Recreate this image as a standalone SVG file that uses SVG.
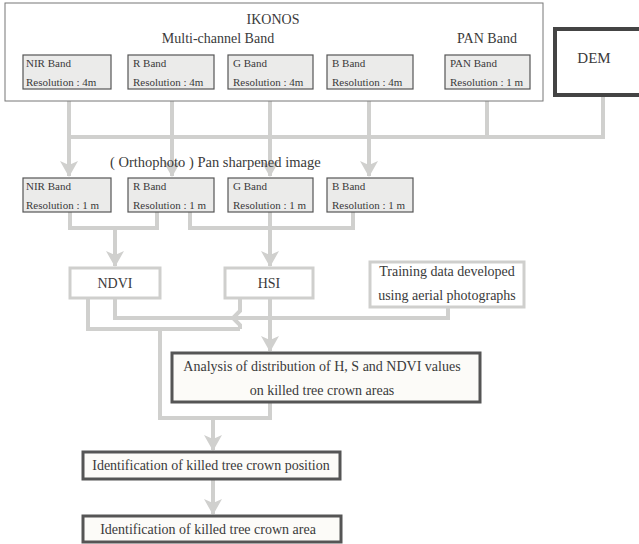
<svg xmlns="http://www.w3.org/2000/svg" width="639" height="544" viewBox="0 0 639 544">
<style>
text{font-family:"Liberation Serif","Times New Roman",serif;fill:#3a3a3a}
.t14{font-size:14px}
.t11{font-size:11px}
.band{fill:#ebebea;stroke:#555;stroke-width:1.2}
.conn{fill:none;stroke:#d0d0ce;stroke-width:4}
.arr{fill:none;stroke:#d0d0ce;stroke-width:4;marker-end:url(#ah)}
.light{fill:#fff;stroke:#cfcfcd;stroke-width:3}
.dark{fill:#fcfbf8;stroke:#555;stroke-width:3}
</style>
<defs>
<marker id="ah" markerUnits="userSpaceOnUse" markerWidth="16" markerHeight="18" refX="15" refY="9" orient="auto" viewBox="0 0 16 18">
<path d="M0,0 L16,9 L0,18 L4,9 Z" fill="#d0d0ce"/>
</marker>
</defs>
<g id="connectors">
<path class="conn" d="M69,89V137M172,89V137M270,89V137M369,89V137M487,89V137M603,95V137M67,137H605"/>
<path class="arr" d="M69,137V176"/>
<path class="arr" d="M172,137V176"/>
<path class="arr" d="M270,137V176"/>
<path class="arr" d="M369,137V176"/>
<path class="conn" d="M70,212V228H157V212M190,212V228H353V212"/>
<path class="arr" d="M115,228V266"/>
<path class="arr" d="M270,212V266"/>
<path class="conn" d="M115,298V318H448V307M88,298V329H240M240,298V311L233,318L240,325V329M160,329V418H270V402"/>
<path class="arr" d="M270,298V351"/>
<path class="arr" d="M213,418V450"/>
<path class="arr" d="M213,479V514"/>
</g>
<g id="ikonos">
<rect x="5" y="3" width="538" height="98" fill="#fff" stroke="#777" stroke-width="1"/>
<text class="t14" x="273" y="24" text-anchor="middle">IKONOS</text>
<text class="t14" x="218" y="43" text-anchor="middle">Multi-channel Band</text>
<text class="t14" x="487" y="43" text-anchor="middle">PAN Band</text>
</g>
<g id="nir4"><rect class="band" x="23" y="55" width="88" height="34"/><text class="t11" x="26" y="67">NIR Band</text><text class="t11" x="26" y="86">Resolution : 4m</text></g>
<g id="r4"><rect class="band" x="128" y="55" width="86" height="34"/><text class="t11" x="133" y="67">R Band</text><text class="t11" x="133" y="86">Resolution : 4m</text></g>
<g id="g4"><rect class="band" x="228" y="55" width="85" height="34"/><text class="t11" x="233" y="67">G Band</text><text class="t11" x="233" y="86">Resolution : 4m</text></g>
<g id="b4"><rect class="band" x="327" y="55" width="86" height="34"/><text class="t11" x="332" y="67">B Band</text><text class="t11" x="332" y="86">Resolution : 4m</text></g>
<g id="pan1"><rect class="band" x="445" y="55" width="85" height="34"/><text class="t11" x="450" y="67">PAN Band</text><text class="t11" x="450" y="86">Resolution :  1 m</text></g>
<g id="dem"><rect x="555" y="29" width="90" height="66" fill="#fff" stroke="#444" stroke-width="4"/><text class="t14" x="594" y="63" text-anchor="middle" style="font-size:15px">DEM</text></g>
<g id="pansharp"><text class="t14" x="110" y="167" style="font-size:14.5px">( Orthophoto ) Pan sharpened image</text></g>
<g id="nir1"><rect class="band" x="23" y="178" width="88" height="34"/><text class="t11" x="26" y="190">NIR Band</text><text class="t11" x="26" y="209">Resolution :  1 m</text></g>
<g id="r1"><rect class="band" x="128" y="178" width="86" height="34"/><text class="t11" x="133" y="190">R Band</text><text class="t11" x="133" y="209">Resolution :  1 m</text></g>
<g id="g1"><rect class="band" x="228" y="178" width="85" height="34"/><text class="t11" x="233" y="190">G Band</text><text class="t11" x="233" y="209">Resolution :  1 m</text></g>
<g id="b1"><rect class="band" x="327" y="178" width="86" height="34"/><text class="t11" x="332" y="190">B Band</text><text class="t11" x="332" y="209">Resolution :  1 m</text></g>
<g id="ndvi"><rect class="light" x="70" y="268" width="90" height="30"/><text class="t14" x="115" y="288" text-anchor="middle">NDVI</text></g>
<g id="hsi"><rect class="light" x="225" y="268" width="88" height="30"/><text class="t14" x="269" y="288" text-anchor="middle">HSI</text></g>
<g id="training"><rect class="light" x="370" y="262" width="154" height="45"/><text class="t14" x="447" y="276" text-anchor="middle">Training data developed</text><text class="t14" x="447" y="300" text-anchor="middle">using aerial photographs</text></g>
<g id="analysis"><rect class="dark" x="172" y="353" width="308" height="49"/><text class="t14" x="322" y="371" text-anchor="middle">Analysis of distribution of  H, S and NDVI values</text><text class="t14" x="322" y="395" text-anchor="middle">on killed tree crown areas</text></g>
<g id="position"><rect class="dark" x="83" y="452" width="257" height="27"/><text class="t14" x="211" y="470" text-anchor="middle">Identification of killed tree crown position</text></g>
<g id="area"><rect class="dark" x="83" y="516" width="258" height="26"/><text class="t14" x="208" y="534" text-anchor="middle">Identification of killed tree crown area</text></g>
</svg>
